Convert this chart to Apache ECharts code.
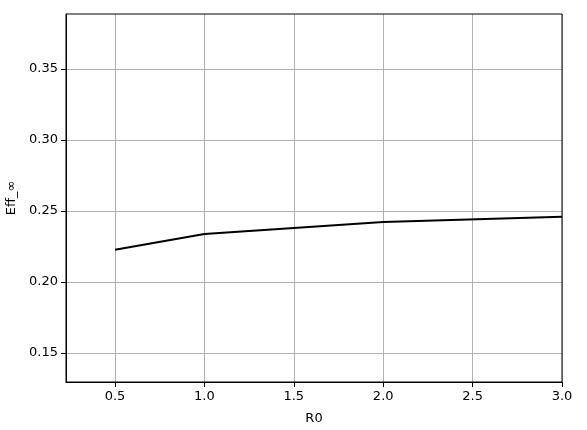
<!DOCTYPE html>
<html>
<head>
<meta charset="utf-8">
<script src="https://cdn.jsdelivr.net/npm/echarts@6/dist/echarts.min.js"></script>
<style>
  html, body { margin: 0; padding: 0; background: #fff; }
  #chart { width: 587px; height: 430px; }
</style>
</head>
<body>
<div id="chart"></div>
<script>
// data
var r0 = [0.5, 1.0, 2.0, 3.0];
var eff = [0.2227, 0.2338, 0.2423, 0.246];
var xTicks = [0.5, 1.0, 1.5, 2.0, 2.5, 3.0];
var yTicks = [0.15, 0.20, 0.25, 0.30, 0.35];

var chart = echarts.init(document.getElementById('chart'));
var font = 'DejaVu Sans';

var option = {
  animation: false,
  grid: { left: 66, right: 25, top: 14, bottom: 48, outerBoundsMode: 'none', containLabel: false },
  xAxis: {
    type: 'value',
    min: 0.226,
    max: 3.0,
    name: 'R0',
    nameLocation: 'middle',
    nameGap: 30,
    nameTextStyle: { color: '#000', fontFamily: font, fontSize: 13 },
    axisLine: { show: true, onZero: false, lineStyle: { color: '#000', width: 1 } },
    axisTick: { show: true, length: 5, customValues: xTicks, lineStyle: { color: '#000' } },
    axisLabel: {
      customValues: xTicks,
      color: '#000', fontFamily: font, fontSize: 13, margin: 8,
      formatter: function (v) { return v.toFixed(1); }
    },
    splitLine: { show: true, lineStyle: { color: '#b0b0b0', width: 1 } }
  },
  yAxis: {
    type: 'value',
    min: 0.1296,
    max: 0.3887,
    name: 'Eff_∞',
    nameLocation: 'middle',
    nameGap: 47,
    nameTextStyle: { color: '#000', fontFamily: font, fontSize: 13 },
    axisLine: { show: true, onZero: false, lineStyle: { color: '#000', width: 1 } },
    axisTick: { show: true, length: 5, customValues: yTicks, lineStyle: { color: '#000' } },
    axisLabel: {
      customValues: yTicks,
      color: '#000', fontFamily: font, fontSize: 13, margin: 8,
      formatter: function (v) { return v.toFixed(2); }
    },
    splitLine: { show: true, lineStyle: { color: '#b0b0b0', width: 1 } }
  },
  series: [{
    type: 'line',
    data: r0.map(function (x, i) { return [x, eff[i]]; }),
    showSymbol: false,
    lineStyle: { color: '#000', width: 2 },
    itemStyle: { color: '#000' }
  }]
};
chart.setOption(option);

// top and right frame lines
var p0 = chart.convertToPixel({ gridIndex: 0 }, [0.226, 0.3887]);
var p1 = chart.convertToPixel({ gridIndex: 0 }, [3.0, 0.1296]);
chart.setOption({
  graphic: [{
    type: 'rect',
    shape: { x: p0[0], y: p0[1], width: p1[0] - p0[0], height: p1[1] - p0[1] },
    style: { fill: 'none', stroke: '#000', lineWidth: 1 },
    z: 10
  }]
});
</script>
</body>
</html>
